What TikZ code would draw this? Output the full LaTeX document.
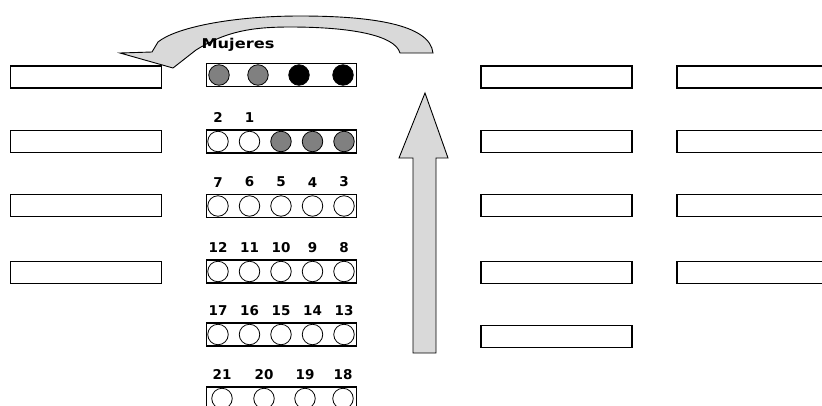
\documentclass[tikz,border=0pt]{standalone}
\usepackage{fontspec}
\setsansfont{DejaVu Sans}
\usetikzlibrary{positioning}
\begin{document}
\begin{tikzpicture}[x=1pt, y=-1pt, font=\sffamily\bfseries\fontsize{13.5}{14}\selectfont,
        seat/.style={draw, line width=1.2pt, minimum width=151pt, minimum height=22pt, inner sep=0pt},
        bar/.style={draw, line width=1.1pt, minimum width=150pt, minimum height=23pt, inner sep=0pt},
        pl/.style={circle, draw, line width=0.8pt, minimum size=20.5pt, inner sep=0pt, fill=white},
        plg/.style={pl, fill=black!50},
        plb/.style={pl, fill=black},
        num/.style={inner sep=0pt},
        flecha/.style={draw, line width=0.9pt, fill=black!15}]
        \useasboundingbox (0,0) rectangle (822,405);
        % ---- mesas laterales ----
        \foreach \y [count=\i] in {77,141.5,205.5,272.5} {
          \node[seat] (l\i) at (86,\y) {};
          \node[seat] (r\i) at (556.5,\y) {};
          \node[seat] (s\i) at (752.5,\y) {};
        }
        \node[seat] (r5) at (556.5,336.5) {};
        % ---- flecha curva ----
        \draw[flecha] (433,53) .. controls (430,24) and (370,16) .. (300,16)
          .. controls (230,16) and (175,28) .. (158,42) -- (152,52) -- (120,53)
          -- (173,68) -- (196,50) .. controls (225,32) and (250,27) .. (290,27)
          .. controls (350,27) and (395,35) .. (400,53) -- cycle;
        % ---- flecha vertical ----
        \draw[flecha] (413,353) -- (413,158) -- (399,158) -- (425,93)
          -- (448,158) -- (436,158) -- (436,353) -- cycle;
        % ---- fila de mujeres ----
        \node[bar] (m0) at (281.5,75) {};
        \node[plg] (m1) at (219,75) {};
        \node[plg] (m2) at (258,75) {};
        \node[plb] (m3) at (299,75) {};
        \node[plb] (m4) at (343,75) {};
        \node[inner sep=0pt] (lab) at (238,45) {\scalebox{1.2}[1]{Mujeres}};
        % ---- filas numeradas ----
        \node[bar] (f1) at (281.5,141.5) {};
        \foreach \c [count=\i] in {pl,pl,plg,plg,plg}
          \node[\c] (a\i) at (218+31.5*\i-31.5,141.5) {};
        \node[num, above=8pt of a1] {2};
        \node[num, above=8pt of a2] {1};
        \foreach \row/\y/\first in {b/206/7,c/271.5/12,d/334.5/17} {
          \node[bar] (f\row) at (281.5,\y) {};
          \foreach \i in {1,...,5} {
            \node[pl] (\row\i) at (218+31.5*\i-31.5,\y) {};
            \pgfmathtruncatemacro\lbl{\first+1-\i}
            \node[num, above=8pt of \row\i] {\lbl};
          }
        }
        \node[bar] (fe) at (281.5,398.5) {};
        \foreach \x/\n [count=\i] in {222/21,264/20,305/19,343/18} {
          \node[pl] (e\i) at (\x,398.5) {};
          \node[num, above=8pt of e\i] {\n};
        }
    \end{tikzpicture}
\end{document}
